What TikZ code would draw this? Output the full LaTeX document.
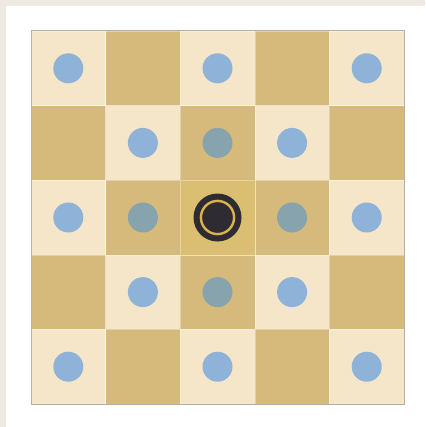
\documentclass[tikz,border=0pt]{standalone}
\definecolor{outerbg}{HTML}{EEE9E3}
\definecolor{lightcell}{HTML}{F5E6CA}
\definecolor{darkcell}{HTML}{D5BA7B}
\definecolor{centercell}{HTML}{DABE72}
\definecolor{dotblue}{HTML}{8FB3D8}
\definecolor{dotgray}{HTML}{86A3AE}
\definecolor{piece}{HTML}{2F2B33}
\definecolor{ring}{HTML}{D8B44A}
\definecolor{frame}{HTML}{B3AEA8}
\tikzset{
  cellbox/.style={draw=white, draw opacity=0.35, line width=0.6pt},
  dotmark/.style={circle, minimum size=30pt, inner sep=0pt, fill=dotblue},
  dotdim/.style={circle, minimum size=30pt, inner sep=0pt, fill=dotgray},
}
\begin{document}
\begin{tikzpicture}[x=1pt,y=-1pt]
\useasboundingbox (0,0) rectangle (425,427);
\fill[outerbg] (0,0) rectangle (425,427);
\fill[white] (6,6) rectangle (425,427);
\def\cs{74.6}
\foreach \i in {0,...,4}{
  \foreach \j in {0,...,4}{
    \pgfmathtruncatemacro{\cellpar}{mod(\i+\j,2)}
    \ifnum\cellpar=0
      \fill[lightcell,cellbox] ({31+\i*\cs},{31+\j*\cs}) rectangle ++(\cs,\cs);
    \else
      \fill[darkcell,cellbox] ({31+\i*\cs},{31+\j*\cs}) rectangle ++(\cs,\cs);
    \fi
  }
}
\fill[centercell,cellbox] ({31+2*\cs},{31+2*\cs}) rectangle ++(\cs,\cs);
\draw[frame, line width=1pt] (31,31) rectangle (404,404);
% dots on light cells
\foreach \i/\j [count=\k] in {0/0,2/0,4/0,1/1,3/1,0/2,4/2,1/3,3/3,0/4,2/4,4/4}{
  \node[dotmark] (d\k) at ({31+(\i+0.5)*\cs},{31+(\j+0.5)*\cs}) {};
}
% dimmed dots next to centre
\foreach \i/\j [count=\k] in {2/1,1/2,3/2,2/3}{
  \node[dotdim] (g\k) at ({31+(\i+0.5)*\cs},{31+(\j+0.5)*\cs}) {};
}
% centre piece
\node[circle, minimum size=48pt, inner sep=0pt, fill=piece] (p) at ({31+2.5*\cs},{31+2.5*\cs}) {};
\draw[ring, line width=2.4pt] (p.center) circle (16.6);
\end{tikzpicture}
\end{document}
